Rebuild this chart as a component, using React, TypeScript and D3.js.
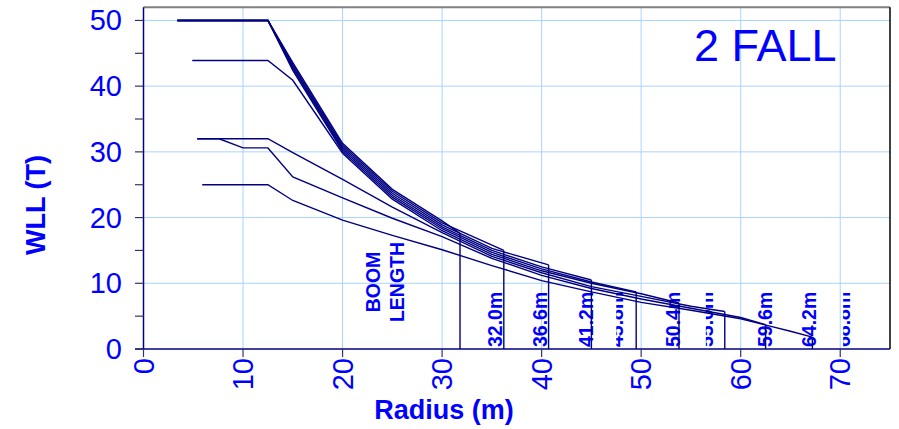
import React from "react";
import * as d3 from "d3";

// ---- data (radius m, WLL t) ----
const curve320: [number, number][] = [[3.4, 50], [12.5, 50], [15, 43.6], [20, 31.3], [25, 24.3], [30, 19.5], [31.8, 17.6]];
const curve366: [number, number][] = [[3.4, 50], [12.5, 50], [15, 43.3], [20, 31.0], [25, 24.0], [30, 19.2], [36.2, 15.0]];
const curve412: [number, number][] = [[3.4, 50], [12.5, 50], [15, 43.0], [20, 30.7], [25, 23.7], [30, 18.9], [35, 15.3], [40.7, 12.8]];
const curve458: [number, number][] = [[3.4, 50], [12.5, 50], [15, 42.7], [20, 30.4], [25, 23.4], [30, 18.6], [35, 15.0], [40, 12.5], [45, 10.5]];
const curve504: [number, number][] = [[3.4, 50], [12.5, 50], [15, 42.4], [20, 30.1], [25, 23.1], [30, 18.3], [35, 14.7], [40, 12.2], [45, 10.2], [49.5, 8.7]];
const curve550: [number, number][] = [[4.9, 43.9], [12.5, 43.9], [15, 40.9], [20, 29.8], [25, 22.8], [30, 18.0], [35, 14.4], [40, 11.9], [45, 10.0], [50, 8.4], [53.8, 7.0]];
const curve596: [number, number][] = [[5.4, 32], [12.5, 32], [15, 29.9], [20, 25.8], [25, 21.6], [30, 17.7], [35, 14.1], [40, 11.6], [45, 9.5], [50, 8.0], [55, 6.5], [58.4, 5.7]];
const curve642: [number, number][] = [[5.4, 32], [7.6, 32], [10, 30.6], [12.5, 30.6], [15, 26.2], [20, 23.0], [25, 19.9], [30, 17.1], [35, 13.8], [40, 11.2], [45, 9.2], [50, 7.6], [55, 6.2], [60, 4.8], [62.5, 3.7]];
const curve688: [number, number][] = [[5.9, 25], [12.5, 25], [15, 22.6], [20, 19.6], [25, 17.3], [30, 15.1], [35, 12.7], [40, 10.4], [45, 8.7], [50, 7.1], [55, 5.9], [60, 4.6], [65, 2.7], [67.2, 1.8]];
const curves = [curve320, curve366, curve412, curve458, curve504, curve550, curve596, curve642, curve688];

const boomLabels = ["32.0m", "36.6m", "41.2m", "45.8m", "50.4m", "55.0m", "59.6m", "64.2m", "68.8m"];
const boomLabelRadius = [36.0, 40.5, 45.2, 48.2, 53.9, 57.2, 63.1, 67.6, 71.0];
const boomLabelFaded = [false, false, false, true, false, true, false, false, true];

const xTicks = [0, 10, 20, 30, 40, 50, 60, 70];
const yTicks = [0, 10, 20, 30, 40, 50];
const yMinorTicks = [0, 5, 10, 15, 20, 25, 30, 35, 40, 45, 50];

const FONT = "'Liberation Sans', Arial, sans-serif";
const BLUE = "#0000ff";
const NAVY = "#000080";
const GRID = "#a8d4ff";

export default function App() {
  const x = d3.scaleLinear().domain([0, 75]).range([143.5, 890]);
  const y = d3.scaleLinear().domain([0, 52]).range([349, 7.3]);
  const line = d3
    .line<[number, number]>()
    .x((d) => x(d[0]))
    .y((d) => y(d[1]));

  return (
    <svg
      width={899}
      height={429}
      style={{ position: "absolute", left: 0, top: 0, background: "#fff" }}
      fontFamily={FONT}
    >
      <defs>
        {boomLabels.map((t, i) =>
          boomLabelFaded[i] ? (
            <clipPath id={`clip${i}`} key={t}>
              <rect x={x(boomLabelRadius[i]) - 7} y={0} width={10} height={429} />
            </clipPath>
          ) : null
        )}
      </defs>
      {/* grid */}
      {xTicks.filter((v) => v > 0).map((v) => (
        <line key={"gx" + v} x1={x(v)} x2={x(v)} y1={y(52)} y2={y(0)} stroke={GRID} strokeWidth={1} />
      ))}
      {yTicks.filter((v) => v > 0).map((v) => (
        <line key={"gy" + v} x1={x(0)} x2={x(75)} y1={y(v)} y2={y(v)} stroke={GRID} strokeWidth={1} />
      ))}

      {/* border */}
      <line x1={x(0)} x2={x(75)} y1={y(52)} y2={y(52)} stroke="#808080" strokeWidth={2} />
      <line x1={x(75)} x2={x(75)} y1={y(52)} y2={y(0)} stroke="#000" strokeWidth={1.5} />

      {/* boom labels */}
      {boomLabels.map((t, i) => (
        <g key={t} clipPath={boomLabelFaded[i] ? `url(#clip${i})` : undefined}>
          <text
            transform={`translate(${x(boomLabelRadius[i])},347) rotate(-90)`}
            fontSize={19.5}
            fontWeight="bold"
            fill={BLUE}
          >
            {t}
          </text>
        </g>
      ))}
      <text transform={`translate(380,282) rotate(-90)`} fontSize={19.5} fontWeight="bold" fill={BLUE} textAnchor="middle">
        BOOM
      </text>
      <text transform={`translate(404,282) rotate(-90)`} fontSize={19.5} fontWeight="bold" fill={BLUE} textAnchor="middle">
        LENGTH
      </text>

      {/* curves */}
      {curves.map((c, i) => {
        const last = c[c.length - 1];
        return (
          <g key={"c" + i}>
            <path d={line(c) || ""} fill="none" stroke={NAVY} strokeWidth={1.4} />
            <line x1={x(last[0])} x2={x(last[0])} y1={y(last[1])} y2={y(0)} stroke={NAVY} strokeWidth={1.4} />
          </g>
        );
      })}

      {/* axes */}
      <line x1={x(0)} x2={x(0)} y1={y(52)} y2={y(0)} stroke={NAVY} strokeWidth={1.5} />
      <line x1={135} x2={x(75)} y1={y(0)} y2={y(0)} stroke={NAVY} strokeWidth={1.5} />
      {yMinorTicks.map((v) => (
        <line key={"yt" + v} x1={135} x2={x(0)} y1={y(v)} y2={y(v)} stroke="#333366" strokeWidth={1.2} />
      ))}
      {xTicks.map((v) => (
        <line key={"xt" + v} x1={x(v)} x2={x(v)} y1={y(0)} y2={y(0) + 8} stroke="#333366" strokeWidth={1.2} />
      ))}
      {yTicks.map((v) => (
        <text key={"yl" + v} x={122} y={y(v)} textAnchor="end" dominantBaseline="central" fontSize={29} fill={BLUE}>
          {v}
        </text>
      ))}
      {xTicks.map((v) => (
        <text
          key={"xl" + v}
          transform={`translate(${x(v)},358) rotate(-90)`}
          textAnchor="end"
          dominantBaseline="central"
          fontSize={29}
          fill={BLUE}
        >
          {v}
        </text>
      ))}

      {/* titles */}
      <text transform="translate(36,205) rotate(-90)" textAnchor="middle" dominantBaseline="central" fontSize={27} fontWeight="bold" fill={BLUE}>
        WLL (T)
      </text>
      <text x={444} y={419} textAnchor="middle" fontSize={27} fontWeight="bold" fill={BLUE}>
        Radius (m)
      </text>
      <text x={694} y={61} fontSize={45} fill={BLUE}>
        2 FALL
      </text>
    </svg>
  );
}
